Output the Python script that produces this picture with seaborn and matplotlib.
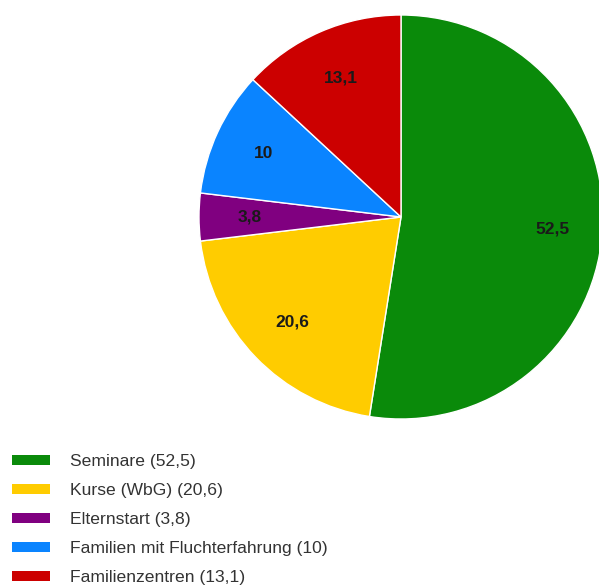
import matplotlib
matplotlib.use("Agg")
import matplotlib.pyplot as plt
import seaborn as sns
from matplotlib.patches import Patch

# data
categories = ["Seminare", "Kurse (WbG)", "Elternstart", "Familien mit Fluchterfahrung", "Familienzentren"]
values = [52.5, 20.6, 3.8, 10, 13.1]
colors = ["#0a8a0a", "#ffcc00", "#800080", "#0a84ff", "#cc0000"]


def fmt(v):
    return ("%g" % round(v, 1)).replace(".", ",")


sns.set_theme(style="white")
plt.rcParams["font.family"] = ["Liberation Sans", "DejaVu Sans"]

fig = plt.figure(figsize=(5.99, 5.85), dpi=100)
# square axes holding the pie
ax = fig.add_axes([199 / 599, 166 / 585, 404 / 599, 404 / 585])

wedges, texts, autotexts = ax.pie(
    values,
    colors=colors,
    startangle=90,
    counterclock=False,
    autopct=fmt,
    pctdistance=0.75,
    wedgeprops=dict(edgecolor="white", linewidth=1),
    textprops=dict(fontsize=12.5, fontweight="bold", color="#1a1a1a"),
)
ax.set_xlim(-1, 1)
ax.set_ylim(-1, 1)
ax.set_aspect("equal")
ax.axis("off")

# legend below the pie
handles = [Patch(facecolor=c, edgecolor="none") for c in colors]
labels = [f"{c} ({fmt(v)})" for c, v in zip(categories, values)]
fig.legend(
    handles, labels,
    loc="upper left",
    bbox_to_anchor=(12 / 599, 1 - 454 / 585),
    frameon=False,
    fontsize=12.6,
    handlelength=2.15,
    handleheight=0.5,
    handletextpad=1.15,
    labelspacing=0.8,
    borderpad=0,
    borderaxespad=0,
    labelcolor="#333333",
)

fig.savefig("out.png", dpi=100)
